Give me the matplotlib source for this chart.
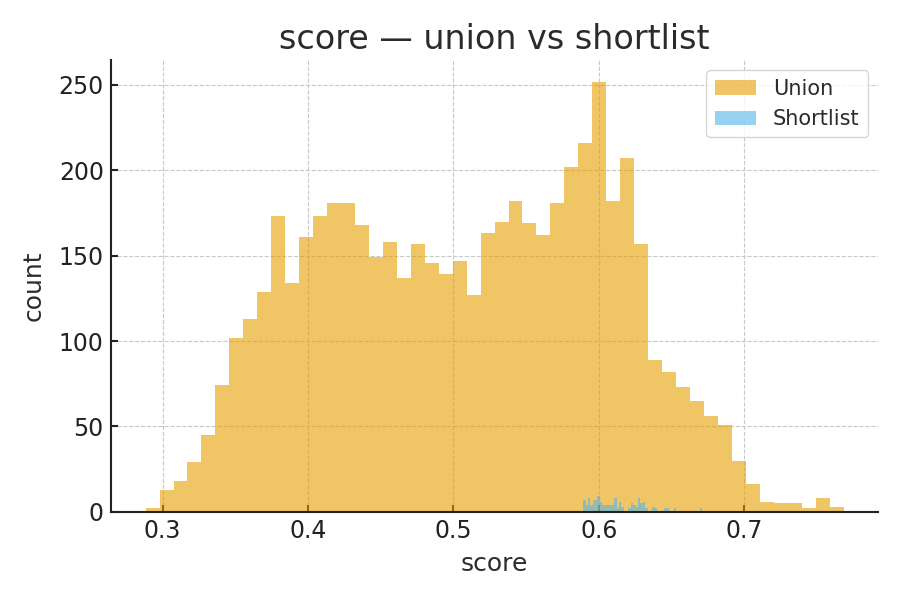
import numpy as np
import matplotlib
matplotlib.use("Agg")
import matplotlib.pyplot as plt

# union histogram: 50 bins over the score range
union_lo, union_hi = 0.2883, 0.7682
union_counts = [2, 13, 18, 29, 45, 74, 102, 113, 129, 173,
                134, 161, 173, 181, 181, 168, 149, 158, 137, 157,
                146, 139, 147, 127, 163, 170, 182, 169, 162, 181,
                202, 216, 252, 182, 207, 157, 89, 82, 73, 65,
                56, 51, 30, 16, 6, 5, 5, 2, 8, 3]

# shortlist histogram: 50 bins over a narrower range
short_lo, short_hi = 0.5892, 0.6711
short_counts = [7, 4, 8, 4, 7, 7, 9, 6, 4, 4,
                4, 4, 4, 8, 2, 6, 3, 0, 0, 2,
                5, 4, 3, 8, 5, 6, 2, 0, 0, 3,
                2, 0, 0, 0, 2, 2, 0, 0, 2, 0,
                0, 0, 0, 0, 0, 0, 0, 0, 0, 2]

txt = "#2b2b2b"
plt.rcParams.update({
    "font.family": "DejaVu Sans",
    "text.color": txt,
    "axes.labelcolor": txt,
    "xtick.color": "#222222",
    "ytick.color": "#222222",
})

fig, ax = plt.subplots(figsize=(9, 6), dpi=100)
fig.subplots_adjust(left=0.123, right=0.976, bottom=0.147, top=0.9)

u_edges = np.linspace(union_lo, union_hi, len(union_counts) + 1)
s_edges = np.linspace(short_lo, short_hi, len(short_counts) + 1)
ax.hist(u_edges[:-1], bins=u_edges, weights=union_counts,
        color="#E69F00", alpha=0.6, label="Union")
ax.hist(s_edges[:-1], bins=s_edges, weights=short_counts,
        color="#56B4E9", alpha=0.6, label="Shortlist")

ax.set_title("score — union vs shortlist", fontsize=24, color=txt, pad=8)
ax.set_xlabel("score", fontsize=18, labelpad=7)
ax.set_ylabel("count", fontsize=18, labelpad=9)
ax.set_xticks([0.3, 0.4, 0.5, 0.6, 0.7])
ax.tick_params(labelsize=17, direction="in", length=5, width=1.5, pad=5)

ax.grid(True, linestyle="--", color="#c8c8c8", linewidth=0.8)
ax.set_axisbelow(True)
for s in ["top", "right"]:
    ax.spines[s].set_visible(False)
for s in ["left", "bottom"]:
    ax.spines[s].set_linewidth(1.5)
    ax.spines[s].set_color("#222222")

leg = ax.legend(loc="upper right", fontsize=15)
leg.get_frame().set_edgecolor("#cccccc")

fig.savefig("out.png")
